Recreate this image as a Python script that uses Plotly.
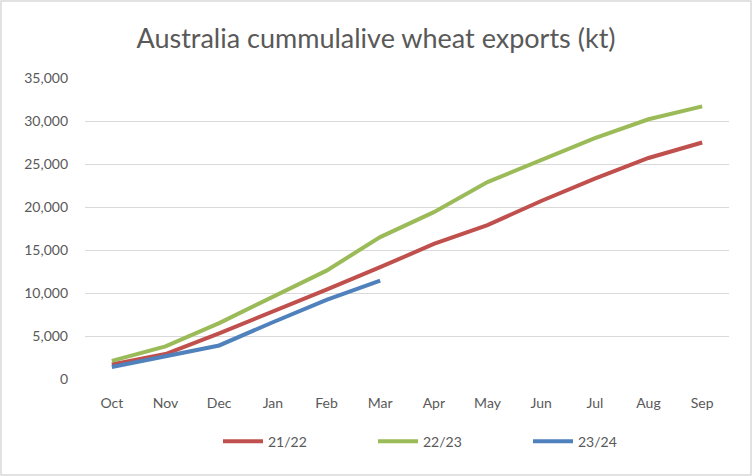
import plotly.graph_objects as go

# month categories (marketing year Oct-Sep)
months = ["Oct", "Nov", "Dec", "Jan", "Feb", "Mar", "Apr", "May", "Jun", "Jul", "Aug", "Sep"]

# cumulative exports, kt
exports_2122 = [1700, 2900, 5300, 7800, 10400, 13000, 15700, 17900, 20700, 23300, 25700, 27500]
exports_2223 = [2100, 3800, 6500, 9600, 12600, 16500, 19400, 22900, 25500, 28000, 30200, 31700]
exports_2324 = [1400, 2600, 3900, 6600, 9200, 11450]

y_ticks = [0, 5000, 10000, 15000, 20000, 25000, 30000, 35000]

series = [
    ("21/22", exports_2122, "#C0504D"),
    ("22/23", exports_2223, "#9BBB59"),
    ("23/24", exports_2324, "#4F81BD"),
]

fig = go.Figure()
for name, vals, color in series:
    fig.add_trace(go.Scatter(
        x=months[:len(vals)], y=vals, mode="lines", name=name,
        line=dict(color=color, width=4),
    ))

fig.update_layout(
    width=752, height=476,
    margin=dict(l=85, r=23, t=78, b=97),
    paper_bgcolor="white", plot_bgcolor="white",
    font=dict(family="Lato, Carlito, Calibri, sans-serif", size=14, color="#595959"),
    title=dict(
        text="Australia cummulalive wheat exports (kt)",
        x=0.5, xanchor="center", y=0.918, yanchor="middle",
        font=dict(size=27, color="#595959"),
    ),
    xaxis=dict(
        type="category", categoryorder="array", categoryarray=months,
        range=[-0.5, 11.5], showgrid=False, showline=False, zeroline=False,
        ticks="", ticklabelstandoff=14,
    ),
    yaxis=dict(
        range=[0, 35000], tickvals=y_ticks, tickformat=",",
        showgrid=True, gridcolor="#D9D9D9", gridwidth=1.3,
        zeroline=False, showline=False, ticks="", ticklabelstandoff=16,
    ),
    legend=dict(
        orientation="h", x=(218 - 85) / 644, xanchor="left", y=-0.208, yanchor="middle",
        font=dict(size=14, color="#595959"), itemwidth=40,
        entrywidth=100, entrywidthmode="pixels", tracegroupgap=0,
    ),
    showlegend=True,
)

# light border around the whole chart area
fig.add_shape(
    type="rect", xref="paper", yref="paper",
    x0=-84 / 644, x1=(644 + 22) / 644, y0=-96 / 301, y1=(301 + 77) / 301,
    line=dict(color="#D9D9D9", width=1.5), fillcolor="rgba(0,0,0,0)", layer="below",
)

fig.write_html("out.html", config={"displayModeBar": False},
               post_script="document.body.style.margin='0';")
